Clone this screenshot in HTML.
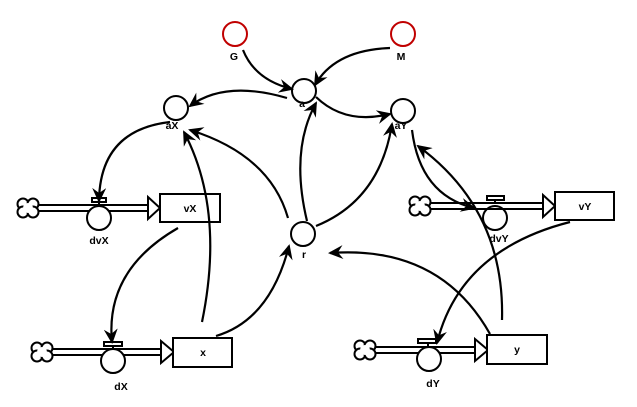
<!DOCTYPE html>
<html><head><style>
html,body{margin:0;padding:0;background:#fff;}
svg{display:block;}
text{font-family:"Liberation Sans",sans-serif;font-size:10.5px;font-weight:bold;text-anchor:middle;fill:#000;}
</style></head><body>
<svg width="637" height="407" viewBox="0 0 637 407" xmlns="http://www.w3.org/2000/svg">
<defs>
<marker id="ar" markerWidth="16" markerHeight="14" refX="13" refY="7" orient="auto" markerUnits="userSpaceOnUse">
<path d="M0,0 L15,7 L0,14 L5,7 Z" fill="#000"/>
</marker>
<g id="cloud" fill="#fff" stroke="#000" stroke-width="2">
<circle cx="-5" cy="-4" r="5.5"/><circle cx="5" cy="-4" r="5.5"/><circle cx="-5" cy="4" r="5.5"/><circle cx="5" cy="4" r="5.5"/>
<circle cx="0" cy="0" r="5" stroke="none"/>
</g>
</defs>
<g fill="none" stroke="#000" stroke-width="2">
<path d="M38,205 H148 M38,211 H148"/>
<path d="M148,197 L160,208 L148,219 Z" fill="#fff"/>
<path d="M428,203 H543 M428,209 H543"/>
<path d="M543,195 L555,206 L543,217 Z" fill="#fff"/>
<path d="M52,349 H161 M52,355 H161"/>
<path d="M161,341 L174,352 L161,363 Z" fill="#fff"/>
<path d="M375,347 H475 M375,353 H475"/>
<path d="M475,339 L488,350 L475,361 Z" fill="#fff"/>
</g>
<g fill="#fff" stroke="#000" stroke-width="2">
<use href="#cloud" x="28" y="208"/>
<use href="#cloud" x="420" y="206"/>
<use href="#cloud" x="42" y="352"/>
<use href="#cloud" x="365" y="350"/>
<rect x="92" y="198" width="14" height="4"/><line x1="99" y1="202" x2="99" y2="206"/>
<rect x="487" y="196" width="17" height="4"/><line x1="495" y1="200" x2="495" y2="204"/>
<rect x="104" y="342" width="18" height="4"/><line x1="113" y1="346" x2="113" y2="350"/>
<rect x="418" y="339" width="18" height="4"/><line x1="428" y1="343" x2="428" y2="347"/>
<rect x="160" y="194" width="60" height="28"/>
<rect x="555" y="192" width="59" height="28"/>
<rect x="173" y="338" width="59" height="29"/>
<rect x="487" y="335" width="60" height="29"/>
<circle cx="99" cy="218" r="12"/>
<circle cx="495" cy="218" r="12" fill="none"/>
<circle cx="113" cy="361" r="12"/>
<circle cx="429" cy="359" r="12"/>
<circle cx="304" cy="91" r="12"/>
<circle cx="176" cy="108" r="12"/>
<circle cx="403" cy="111" r="12"/>
<circle cx="303" cy="234" r="12"/>
<circle cx="235" cy="34" r="12" stroke="#c00000"/>
<circle cx="403" cy="34" r="12" stroke="#c00000"/>
</g>
<g fill="none" stroke="#000" stroke-width="2.2" marker-end="url(#ar)">
<path d="M243,50 Q255,80 292,89"/>
<path d="M390,48 Q335,50 315,85"/>
<path d="M287,98 Q225,80 190,106"/>
<path d="M316,97 Q345,125 390,114"/>
<path d="M170,122 Q100,130 99,201"/>
<path d="M178,228 Q105,270 112,342"/>
<path d="M202,322 Q225,210 184,132"/>
<path d="M288,218 Q270,155 190,130"/>
<path d="M307,221 Q290,150 316,103"/>
<path d="M316,226 Q380,200 392,124"/>
<path d="M216,336 Q270,320 289,246"/>
<path d="M490,334 Q440,245 330,253"/>
<path d="M570,222 Q460,250 437,343"/>
<path d="M412,130 Q420,195 474,208"/>
<path d="M502,320 Q505,210 418,146"/>
</g>
<text x="234" y="60">G</text>
<text x="401" y="60">M</text>
<text x="302" y="107">a</text>
<text x="172" y="129">aX</text>
<text x="401" y="129">aY</text>
<text x="304" y="258">r</text>
<text x="99" y="244">dvX</text>
<text x="499" y="242">dvY</text>
<text x="121" y="390">dX</text>
<text x="433" y="387">dY</text>
<text x="190" y="212">vX</text>
<text x="585" y="210">vY</text>
<text x="203" y="356">x</text>
<text x="517" y="353">y</text>
</svg>
</body></html>
